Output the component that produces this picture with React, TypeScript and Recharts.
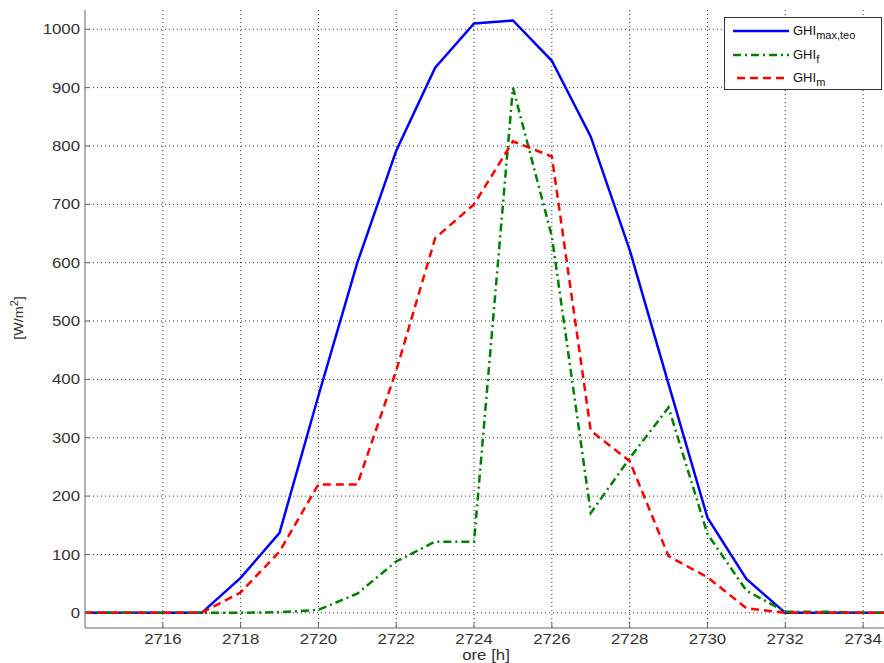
import { LineChart, Line, XAxis, YAxis, CartesianGrid, Legend } from 'recharts';

// hourly irradiance, hours 2714..2735
const hours = [
  2714, 2715, 2716, 2717, 2718, 2719, 2720, 2721, 2722, 2723, 2724,
  2725, 2726, 2727, 2728, 2729, 2730, 2731, 2732, 2733, 2734, 2735,
];
const ghiMaxTeo = [
  0, 0, 0, 0, 60, 137, 372, 600, 792, 934, 1010,
  1015, 946, 816, 622, 392, 163, 58, 0, 0, 0, 0,
];
const ghiF = [
  0, 0, 0, 0, 0, 1, 5, 33, 88, 122, 122,
  900, 645, 171, 265, 352, 135, 38, 2, 2, 0, 0,
];
const ghiM = [
  0, 0, 0, 0, 35, 105, 220, 220, 415, 642, 700,
  808, 782, 312, 260, 97, 61, 8, 0, 0, 0, 0,
];

const xTicks = [2716, 2718, 2720, 2722, 2724, 2726, 2728, 2730, 2732, 2734];
const yTicks = [0, 100, 200, 300, 400, 500, 600, 700, 800, 900, 1000];

const series = [
  { key: 'maxTeo', base: 'GHI', sub: 'max,teo', color: '#0000ff', dash: undefined },
  { key: 'f', base: 'GHI', sub: 'f', color: '#008000', dash: '8 4 2 4' },
  { key: 'm', base: 'GHI', sub: 'm', color: '#ff0000', dash: '8 5' },
];

const data = hours.map((h, i) => ({
  h,
  maxTeo: ghiMaxTeo[i],
  f: ghiF[i],
  m: ghiM[i],
}));

const FONT = 'Arial, "Liberation Sans", sans-serif';
const AXIS = '#666';
const TEXT = '#333';

const XTick = ({ x, y, payload }: any) => (
  <text
    transform={`translate(${x},${y}) scale(1.2,1)`}
    textAnchor="middle"
    dy="0.75em"
    fontSize={14}
    fontFamily={FONT}
    fill={TEXT}
  >
    {payload.value}
  </text>
);

const YTick = ({ x, y, payload }: any) => (
  <text
    transform={`translate(${x},${y}) scale(1.2,1)`}
    textAnchor="end"
    dy="0.36em"
    fontSize={14}
    fontFamily={FONT}
    fill={TEXT}
  >
    {payload.value}
  </text>
);

const LegendBox = () => (
  <div
    style={{
      width: 158,
      height: 73,
      border: '1px solid #333',
      background: '#fff',
      boxSizing: 'border-box',
      position: 'relative',
      fontFamily: FONT,
    }}
  >
    {series.map((s, i) => (
      <div
        key={s.key}
        style={{ position: 'absolute', left: 0, top: 3 + i * 23.5, height: 22, width: 156 }}
      >
        <svg width={70} height={22} style={{ position: 'absolute', left: 0, top: 0 }}>
          <line
            x1={s.key === 'm' ? 12 : 8}
            x2={64}
            y1={10}
            y2={10}
            stroke={s.color}
            strokeWidth={2.5}
            strokeDasharray={s.dash}
          />
        </svg>
        <span
          style={{
            position: 'absolute',
            left: 68,
            top: 2,
            fontSize: 13,
            color: '#111',
            whiteSpace: 'nowrap',
          }}
        >
          {s.base}
          <sub style={{ fontSize: 11, verticalAlign: '-4px', lineHeight: 0 }}>{s.sub}</sub>
        </span>
      </div>
    ))}
  </div>
);

export default function App() {
  return (
    <div
      style={{
        position: 'absolute',
        left: 0,
        top: 0,
        width: 884,
        height: 663,
        overflow: 'hidden',
        background: '#fff',
      }}
    >
      <LineChart
        width={920}
        height={663}
        data={data}
        margin={{ top: 10, right: 18, bottom: 0, left: 0 }}
      >
        <CartesianGrid
          stroke="#333"
          strokeDasharray="1 3"
          horizontalValues={yTicks}
          verticalValues={xTicks}
        />
        <XAxis
          dataKey="h"
          type="number"
          domain={[2714, 2735]}
          ticks={xTicks}
          allowDataOverflow
          height={35}
          stroke={AXIS}
          tickSize={-5}
          tickMargin={10}
          tick={<XTick />}
          interval={0}
        />
        {/* top border with inward tick marks only */}
        <XAxis
          xAxisId="top"
          orientation="top"
          dataKey="h"
          type="number"
          domain={[2714, 2735]}
          ticks={xTicks}
          allowDataOverflow
          height={0}
          stroke={AXIS}
          tickSize={-5}
          tickFormatter={() => ''}
          interval={0}
        />
        <YAxis
          type="number"
          domain={[-26, 1033]}
          ticks={yTicks}
          allowDataOverflow
          width={85}
          stroke={AXIS}
          tickSize={-5}
          tickMargin={10}
          tick={<YTick />}
          interval={0}
        />
        <Legend
          layout="vertical"
          align="center"
          verticalAlign="middle"
          content={<LegendBox />}
          wrapperStyle={{ left: 724, top: 17, width: 158, height: 73 }}
        />
        {series.map((s) => (
          <Line
            key={s.key}
            dataKey={s.key}
            type="linear"
            stroke={s.color}
            strokeWidth={2.5}
            strokeDasharray={s.dash}
            dot={false}
            activeDot={false}
            isAnimationActive={false}
          />
        ))}
      </LineChart>
      <div
        style={{
          position: 'absolute',
          left: 486,
          top: 648,
          transform: 'translateX(-50%) scaleX(1.2)',
          fontFamily: FONT,
          fontSize: 14,
          color: TEXT,
          whiteSpace: 'nowrap',
          lineHeight: '14px',
        }}
      >
        ore [h]
      </div>
      <div
        style={{
          position: 'absolute',
          left: 18,
          top: 318,
          transform: 'translate(-50%, -50%) rotate(-90deg) scaleX(1.1)',
          fontFamily: FONT,
          fontSize: 13,
          color: TEXT,
          whiteSpace: 'nowrap',
        }}
      >
        [W/m<sup style={{ fontSize: 10, verticalAlign: '5px', lineHeight: 0 }}>2</sup>]
      </div>
    </div>
  );
}
